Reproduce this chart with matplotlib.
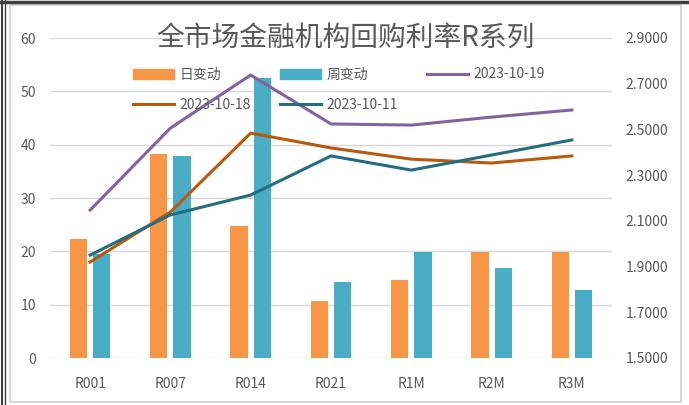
import matplotlib
matplotlib.use("Agg")
import matplotlib.pyplot as plt
from matplotlib.patches import Rectangle, Patch
from matplotlib.lines import Line2D
import numpy as np

plt.rcParams['font.family'] = ['Noto Sans CJK SC', 'DejaVu Sans']

categories = ["R001", "R007", "R014", "R021", "R1M", "R2M", "R3M"]
daily_change = [22.4, 38.3, 24.7, 10.6, 14.7, 19.8, 19.8]
weekly_change = [19.5, 37.9, 52.5, 14.3, 19.8, 16.8, 12.8]
rate_1019 = [2.147, 2.506, 2.738, 2.524, 2.519, 2.554, 2.585]
rate_1018 = [1.92, 2.139, 2.484, 2.419, 2.370, 2.353, 2.384]
rate_1011 = [1.95, 2.126, 2.213, 2.384, 2.322, 2.388, 2.454]
left_ticks = [0, 10, 20, 30, 40, 50, 60]
right_ticks = [1.5, 1.7, 1.9, 2.1, 2.3, 2.5, 2.7, 2.9]

c_orange = "#F79646"
c_blue = "#4BACC6"
c_purple = "#8064A2"
c_brown = "#B9590F"
c_teal = "#246D7E"
txt = "#595959"

fig = plt.figure(figsize=(6.89, 4.05), dpi=100)
W, H = 689, 405

# frame
fig.patches.append(Rectangle((10 / W, 3 / H), 671 / W, 397 / H, transform=fig.transFigure,
                             fill=False, edgecolor="#D0D0D0", linewidth=1.2))
fig.lines.append(Line2D([0, 1], [1 - 1.5 / H, 1 - 1.5 / H], transform=fig.transFigure,
                        color="#404040", linewidth=2.5))
fig.lines.append(Line2D([1.5 / W, 1.5 / W], [0, 1], transform=fig.transFigure,
                        color="#404040", linewidth=1.5))
fig.lines.append(Line2D([5 / W, 5 / W], [0, 1], transform=fig.transFigure,
                        color="#404040", linewidth=1.0))

ax = fig.add_axes([50 / W, 1 - 358 / H, 562 / W, 320 / H])
ax2 = ax.twinx()

x = np.arange(len(categories))
bw = 0.215
off = 0.145
ax.bar(x - off, daily_change, width=bw, color=c_orange, zorder=2)
ax.bar(x + off, weekly_change, width=bw, color=c_blue, zorder=2)

lw = 2.2
ax2.plot(x, rate_1019, color=c_purple, linewidth=lw)
ax2.plot(x, rate_1018, color=c_brown, linewidth=lw)
ax2.plot(x, rate_1011, color=c_teal, linewidth=lw)

ax.set_xlim(-0.5, len(categories) - 0.5)
ax.set_ylim(0, 60)
ax.set_yticks(left_ticks)
ax2.set_ylim(1.5, 2.9)
ax2.set_yticks(right_ticks)
ax2.set_yticklabels([f"{v:.4f}" for v in right_ticks])

ax.set_xticks(x)
ax.set_xticklabels(categories)

ax.yaxis.grid(True, color="#D9D9D9", linewidth=1.0, zorder=0)
ax.set_axisbelow(True)
for a in (ax, ax2):
    for s in a.spines.values():
        s.set_visible(False)
    a.tick_params(length=0, colors=txt, labelsize=10)
ax.tick_params(axis='x', pad=14)
ax.tick_params(axis='y', pad=10)
ax2.tick_params(axis='y', pad=10)

fig.text(345 / W, 1 - 38 / H, "全市场金融机构回购利率R系列", ha="center", va="center",
         fontsize=20, color=txt)

handles = [
    Patch(color=c_orange, label="日变动"),
    Line2D([], [], color=c_brown, linewidth=lw, label="2023-10-18"),
    Patch(color=c_blue, label="周变动"),
    Line2D([], [], color=c_teal, linewidth=lw, label="2023-10-11"),
    Line2D([], [], color=c_purple, linewidth=lw, label="2023-10-19"),
]
leg = fig.legend(handles=handles, ncol=3, loc="upper left",
                 bbox_to_anchor=(120 / W, 1 - 55 / H), frameon=False,
                 fontsize=10, labelcolor=txt, handlelength=3.0, handleheight=0.7,
                 columnspacing=2.05, handletextpad=0.4, labelspacing=1.2)

fig.savefig("out.png", dpi=100)
